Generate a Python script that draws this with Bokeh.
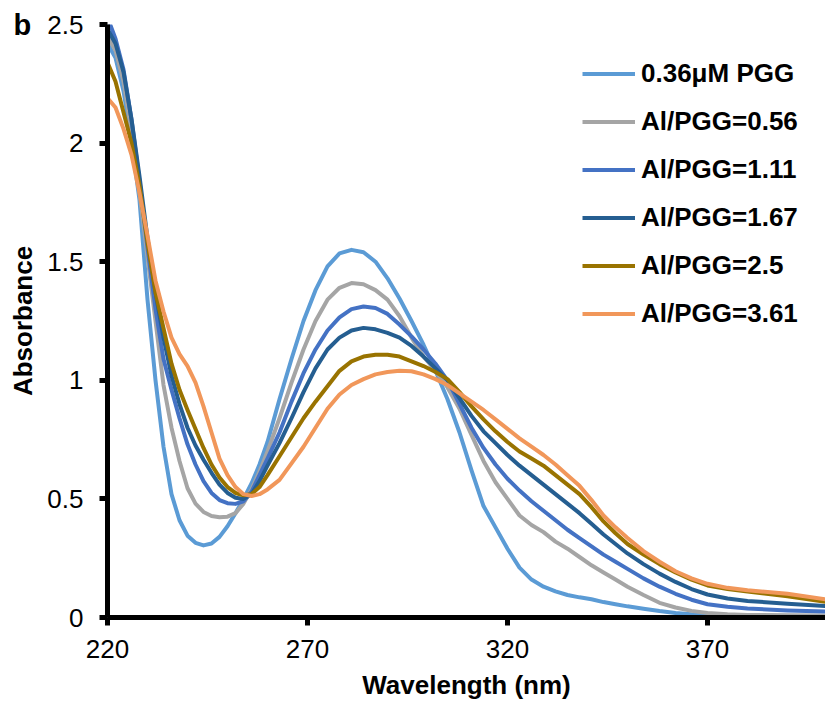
from bokeh.plotting import figure
from bokeh.models import Range1d, FixedTicker, Legend, LegendItem, Title
from bokeh.embed import file_html
from bokeh.resources import INLINE

wavelength = [220, 222, 224, 226, 228, 230, 232, 234, 236, 238, 240, 242, 244, 246, 248,
              250, 252, 254, 256, 258, 260, 263, 266, 269, 272, 275, 278, 281, 284, 287,
              290, 293, 296, 299, 302, 305, 308, 311, 314, 317, 320, 323, 326, 329, 332,
              335, 338, 341, 344, 347, 350, 354, 358, 362, 366, 370, 375, 380, 390, 400]

pgg_0 = [2.42, 2.36, 2.22, 2.01, 1.76, 1.34, 1.00, 0.72, 0.52, 0.41, 0.345, 0.315, 0.304, 0.312, 0.34,
         0.385, 0.44, 0.50, 0.565, 0.645, 0.74, 0.92, 1.09, 1.25, 1.38, 1.48, 1.535, 1.55, 1.54, 1.50,
         1.43, 1.345, 1.25, 1.15, 1.04, 0.92, 0.78, 0.62, 0.47, 0.38, 0.29, 0.21, 0.16, 0.13, 0.11,
         0.095, 0.085, 0.077, 0.065, 0.056, 0.047, 0.037, 0.027, 0.019, 0.014, 0.011, 0.008, 0.006, 0.005, 0.004]

al_056 = [2.45, 2.39, 2.26, 2.05, 1.79, 1.52, 1.25, 0.98, 0.80, 0.66, 0.545, 0.48, 0.445, 0.428, 0.423,
          0.425, 0.44, 0.48, 0.54, 0.615, 0.70, 0.84, 0.99, 1.13, 1.25, 1.34, 1.39, 1.41, 1.405, 1.38,
          1.34, 1.27, 1.18, 1.10, 1.04, 0.97, 0.88, 0.77, 0.66, 0.57, 0.50, 0.43, 0.39, 0.36, 0.32,
          0.29, 0.255, 0.22, 0.19, 0.16, 0.13, 0.095, 0.062, 0.042, 0.028, 0.019, 0.014, 0.011, 0.009, 0.008]

al_111 = [2.53, 2.44, 2.31, 2.10, 1.84, 1.56, 1.30, 1.09, 0.96, 0.84, 0.73, 0.645, 0.575, 0.525, 0.495,
          0.482, 0.479, 0.49, 0.53, 0.60, 0.67, 0.78, 0.91, 1.03, 1.13, 1.21, 1.265, 1.30, 1.311, 1.305,
          1.28, 1.235, 1.185, 1.13, 1.07, 1.00, 0.90, 0.80, 0.715, 0.645, 0.585, 0.535, 0.49, 0.45, 0.41,
          0.37, 0.335, 0.30, 0.265, 0.235, 0.205, 0.165, 0.13, 0.10, 0.075, 0.056, 0.045, 0.038, 0.03, 0.025]

al_167 = [2.48, 2.42, 2.30, 2.10, 1.86, 1.60, 1.37, 1.18, 1.02, 0.90, 0.80, 0.725, 0.665, 0.61, 0.56,
          0.525, 0.505, 0.50, 0.52, 0.575, 0.64, 0.735, 0.84, 0.95, 1.05, 1.13, 1.18, 1.21, 1.221, 1.215,
          1.20, 1.18, 1.145, 1.10, 1.05, 1.00, 0.925, 0.85, 0.785, 0.735, 0.685, 0.64, 0.60, 0.56, 0.52,
          0.48, 0.44, 0.395, 0.35, 0.31, 0.27, 0.225, 0.185, 0.15, 0.12, 0.097, 0.08, 0.07, 0.058, 0.048]

al_250 = [2.34, 2.26, 2.13, 2.00, 1.82, 1.58, 1.37, 1.22, 1.07, 0.96, 0.875, 0.795, 0.715, 0.645, 0.59,
          0.55, 0.525, 0.515, 0.52, 0.55, 0.60, 0.68, 0.76, 0.84, 0.91, 0.975, 1.04, 1.08, 1.10, 1.108,
          1.108, 1.10, 1.08, 1.06, 1.035, 1.005, 0.95, 0.89, 0.835, 0.785, 0.74, 0.70, 0.67, 0.64, 0.60,
          0.56, 0.52, 0.465, 0.405, 0.355, 0.31, 0.265, 0.225, 0.19, 0.16, 0.135, 0.12, 0.11, 0.09, 0.065]

al_361 = [2.19, 2.15, 2.06, 1.95, 1.79, 1.61, 1.42, 1.29, 1.18, 1.11, 1.06, 0.99, 0.89, 0.78, 0.67,
          0.60, 0.55, 0.52, 0.512, 0.52, 0.54, 0.58, 0.65, 0.72, 0.80, 0.88, 0.94, 0.98, 1.005, 1.025,
          1.035, 1.04, 1.038, 1.025, 1.005, 0.98, 0.945, 0.91, 0.875, 0.835, 0.795, 0.755, 0.72, 0.685, 0.645,
          0.60, 0.555, 0.495, 0.43, 0.38, 0.335, 0.28, 0.235, 0.195, 0.165, 0.142, 0.125, 0.115, 0.10, 0.075]

series_names = ["0.36\u03bcM PGG", "Al/PGG=0.56", "Al/PGG=1.11", "Al/PGG=1.67", "Al/PGG=2.5", "Al/PGG=3.61"]
series_values = [pgg_0, al_056, al_111, al_167, al_250, al_361]
colors = ["#5B9BD5", "#A5A5A5", "#4472C4", "#255E91", "#997300", "#F1975A"]

x_ticks = [220, 270, 320, 370]
x_tick_labels = ["220", "270", "320", "370"]
y_ticks = [0, 0.5, 1, 1.5, 2, 2.5]
y_tick_labels = ["0", "0.5", "1", "1.5", "2", "2.5"]

FONT = "Liberation Sans"

p = figure(width=825, height=702, output_backend="svg", toolbar_location=None,
           x_range=Range1d(220, 399.5), y_range=Range1d(0, 2.5),
           min_border_left=107, min_border_right=0, min_border_top=24, min_border_bottom=85)
p.outline_line_color = None
p.xgrid.visible = False
p.ygrid.visible = False
p.background_fill_color = "white"
p.border_fill_color = "white"

items = []
for name, vals, col in zip(series_names, series_values, colors):
    r = p.line(wavelength, vals, line_color=col, line_width=4, line_join="round")
    items.append(LegendItem(label=name, renderers=[r]))

for ax in (p.xaxis[0], p.yaxis[0]):
    ax.axis_line_color = "black"
    ax.axis_line_width = 5
    ax.major_tick_line_color = "black"
    ax.major_tick_line_width = 5
    ax.major_tick_in = 0
    ax.major_tick_out = 8
    ax.minor_tick_line_color = None
    ax.major_label_text_font = FONT
    ax.major_label_text_font_size = "26px"
    ax.major_label_text_color = "black"
    ax.axis_label_text_font = FONT
    ax.axis_label_text_font_size = "26px"
    ax.axis_label_text_font_style = "bold"
    ax.axis_label_text_color = "black"

p.xaxis.ticker = FixedTicker(ticks=x_ticks)
p.xaxis.major_label_overrides = dict(zip(x_ticks, x_tick_labels))
p.yaxis.ticker = FixedTicker(ticks=y_ticks)
p.yaxis.major_label_overrides = dict(zip(y_ticks, y_tick_labels))
p.xaxis.axis_label = "Wavelength (nm)"
p.yaxis.axis_label = "Absorbance"
p.xaxis.major_label_standoff = 14
p.xaxis.axis_label_standoff = 9
p.yaxis.major_label_standoff = 16
p.yaxis.axis_label_standoff = 6

legend = Legend(items=items, location=(475, 288), orientation="vertical",
                glyph_width=53, glyph_height=25, label_height=25, spacing=17,
                label_standoff=6, padding=0, margin=0,
                border_line_color=None, background_fill_alpha=0,
                label_text_font=FONT, label_text_font_size="26px",
                label_text_font_style="bold", label_text_color="black")
p.add_layout(legend)

panel_title = Title(text="b", align="left", offset=-94, standoff=-32,
                    text_font=FONT, text_font_size="29px", text_font_style="bold",
                    text_color="black")
p.add_layout(panel_title, "above")

open("out.html", "w").write(file_html(p, INLINE))
